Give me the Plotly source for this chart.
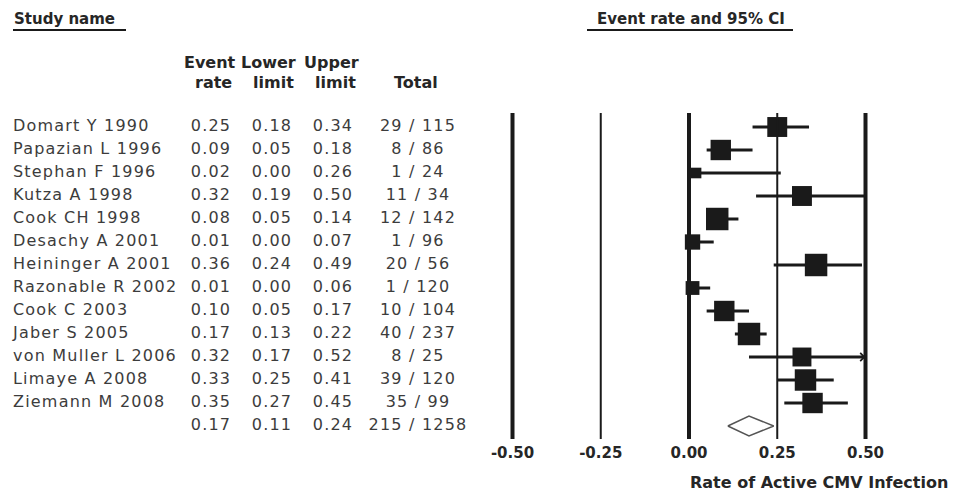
import plotly.graph_objects as go

# ---------------- data ----------------
studies = ["Domart Y 1990", "Papazian L 1996", "Stephan F 1996", "Kutza A 1998",
           "Cook CH 1998", "Desachy A 2001", "Heininger A 2001", "Razonable R 2002",
           "Cook C 2003", "Jaber S 2005", "von Muller L 2006", "Limaye A 2008",
           "Ziemann M 2008"]
event_rate = [0.25, 0.09, 0.02, 0.32, 0.08, 0.01, 0.36, 0.01, 0.10, 0.17, 0.32, 0.33, 0.35]
lower_limit = [0.18, 0.05, 0.00, 0.19, 0.05, 0.00, 0.24, 0.00, 0.05, 0.13, 0.17, 0.25, 0.27]
upper_limit = [0.34, 0.18, 0.26, 0.50, 0.14, 0.07, 0.49, 0.06, 0.17, 0.22, 0.52, 0.41, 0.45]
events = [29, 8, 1, 11, 12, 1, 20, 1, 10, 40, 8, 39, 35]
totals = [115, 86, 24, 34, 142, 96, 56, 120, 104, 237, 25, 120, 99]
rel_weight = [8.1, 8.5, 2.3, 8.1, 10.3, 4.8, 10.3, 3.9, 8.5, 10.3, 7.3, 9.4, 8.5]

summary_rate, summary_lower, summary_upper = 0.17, 0.11, 0.24
summary_events, summary_total = 215, 1258

tick_values = [-0.50, -0.25, 0.00, 0.25, 0.50]
tick_labels = ["-0.50", "-0.25", "0.00", "0.25", "0.50"]
x_title = "Rate of Active CMV Infection"

# ---------------- layout helpers ----------------
# the page body adds an 8px margin, so the figure is made 8px smaller and
# screen positions (p) are converted to figure positions (p - OFF)
OFF = 8
W, H = 965 - OFF, 494 - OFF
PLOT_BOTTOM = 440 - OFF          # figure px where the plot area ends
ROW0_SCR, ROW_PX = 127, 23       # screen px of first row, px per row
ZERO_SCR, UNIT_PX = 689, 353     # screen px of rate 0, px per 1.0 rate
X_CAP = max(tick_values)

FONT = "DejaVu Sans"
DARK = "#1a1a1a"
TXT = "#3c3c3c"
HEAD = "#262626"


def ls(s, sp=1.2):
    return f'<span style="letter-spacing:{sp}px">{s}</span>'


def ypx(p):      # screen y px -> y data (row units)
    return (p - ROW0_SCR) / ROW_PX


def sx(p):       # screen x px -> x2 units
    return p - OFF


n = len(studies)
rows = list(range(n))
sum_row = n

fig = go.Figure()

# CI lines
cx, cy = [], []
for i in rows:
    cx += [lower_limit[i], min(upper_limit[i], X_CAP), None]
    cy += [i, i, None]
fig.add_trace(go.Scatter(x=cx, y=cy, mode="lines", line=dict(color=DARK, width=3),
                         hoverinfo="skip"))

# squares
fig.add_trace(go.Scatter(
    x=event_rate, y=rows, mode="markers",
    marker=dict(symbol="square", color=DARK, opacity=1,
                size=[7.0 * w ** 0.5 for w in rel_weight], line=dict(width=0)),
    hoverinfo="skip"))

# summary diamond
hh = 0.43
fig.add_trace(go.Scatter(
    x=[summary_lower, summary_rate, summary_upper, summary_rate, summary_lower],
    y=[sum_row, sum_row - hh, sum_row, sum_row + hh, sum_row],
    mode="lines", line=dict(color="#555555", width=1.5), hoverinfo="skip"))


# table text (x2 axis in figure px units)
def col_trace(x, texts, pos, yvals, size=16, color=TXT):
    fig.add_trace(go.Scatter(
        x=[x] * len(texts), y=yvals, xaxis="x2", mode="text", text=texts,
        textposition=pos, textfont=dict(family=FONT, size=size, color=color),
        hoverinfo="skip"))


all_rows = rows + [sum_row]
col_trace(sx(13), [ls(s) for s in studies], "middle right", rows)
col_trace(sx(211), [ls(f"{v:.2f}") for v in event_rate + [summary_rate]], "middle center", all_rows)
col_trace(sx(272), [ls(f"{v:.2f}") for v in lower_limit + [summary_lower]], "middle center", all_rows)
col_trace(sx(333), [ls(f"{v:.2f}") for v in upper_limit + [summary_upper]], "middle center", all_rows)
col_trace(sx(418), [ls(f"{e} / {t}") for e, t in zip(events + [summary_events], totals + [summary_total])],
          "middle center", all_rows)

# vertical reference lines
for v in tick_values:
    thick = v in (-0.5, 0.0, 0.5)
    fig.add_shape(type="line", xref="x", yref="y", x0=v, x1=v, y0=ypx(113), y1=ypx(439),
                  line=dict(color=DARK, width=4 if thick else 2))

# arrow for truncated CI
for i in rows:
    if upper_limit[i] > X_CAP:
        fig.add_annotation(x=X_CAP, y=i, ax=-14, ay=0, xref="x", yref="y", text="",
                           showarrow=True, arrowhead=4, arrowsize=1.3, arrowwidth=1.2,
                           arrowcolor=DARK)


# headers
def head(text, x, y, anchor="center", size=16):
    fig.add_annotation(x=sx(x), y=y, xref="x2", yref="y", text=f"<b>{text}</b>",
                       showarrow=False, xanchor=anchor, yanchor="middle",
                       font=dict(family=FONT, size=size, color=HEAD))


head("Study name", 12, ypx(19), "left", size=15)
head("Event rate and 95% CI", 691, ypx(19), size=15)
fig.add_shape(type="line", xref="x2", yref="y", x0=sx(13), x1=sx(126), y0=ypx(30), y1=ypx(30),
              line=dict(color=DARK, width=2))
fig.add_shape(type="line", xref="x2", yref="y", x0=sx(587), x1=sx(793), y0=ypx(30), y1=ypx(30),
              line=dict(color=DARK, width=2))

head("Event", 210, ypx(62))
head("Lower", 268, ypx(62))
head("Upper", 331, ypx(62))
head("rate", 213, ypx(82))
head("limit", 273, ypx(82))
head("limit", 335, ypx(82))
head("Total", 416, ypx(82))

# x-axis title
fig.add_annotation(x=sx(688), y=(PLOT_BOTTOM - (482 - OFF)) / PLOT_BOTTOM, xref="x2", yref="paper",
                   text=f"<b>{x_title}</b>", showarrow=False,
                   xanchor="left", yanchor="middle",
                   font=dict(family=FONT, size=16, color=HEAD))

fig.update_layout(
    width=W, height=H, showlegend=False,
    margin=dict(l=0, r=0, t=0, b=H - PLOT_BOTTOM),
    plot_bgcolor="white", paper_bgcolor="white",
    xaxis=dict(range=[-(ZERO_SCR - OFF) / UNIT_PX, (W - (ZERO_SCR - OFF)) / UNIT_PX],
               tickvals=tick_values, ticktext=tick_labels, ticks="",
               showgrid=False, zeroline=False, showline=False, ticklabelstandoff=2,
               tickfont=dict(family=FONT, size=15, color=HEAD, weight="bold")),
    xaxis2=dict(range=[0, W], overlaying="x", visible=False),
    yaxis=dict(range=[ypx(440), ypx(OFF)], visible=False),
)

fig.write_html("out.html")
